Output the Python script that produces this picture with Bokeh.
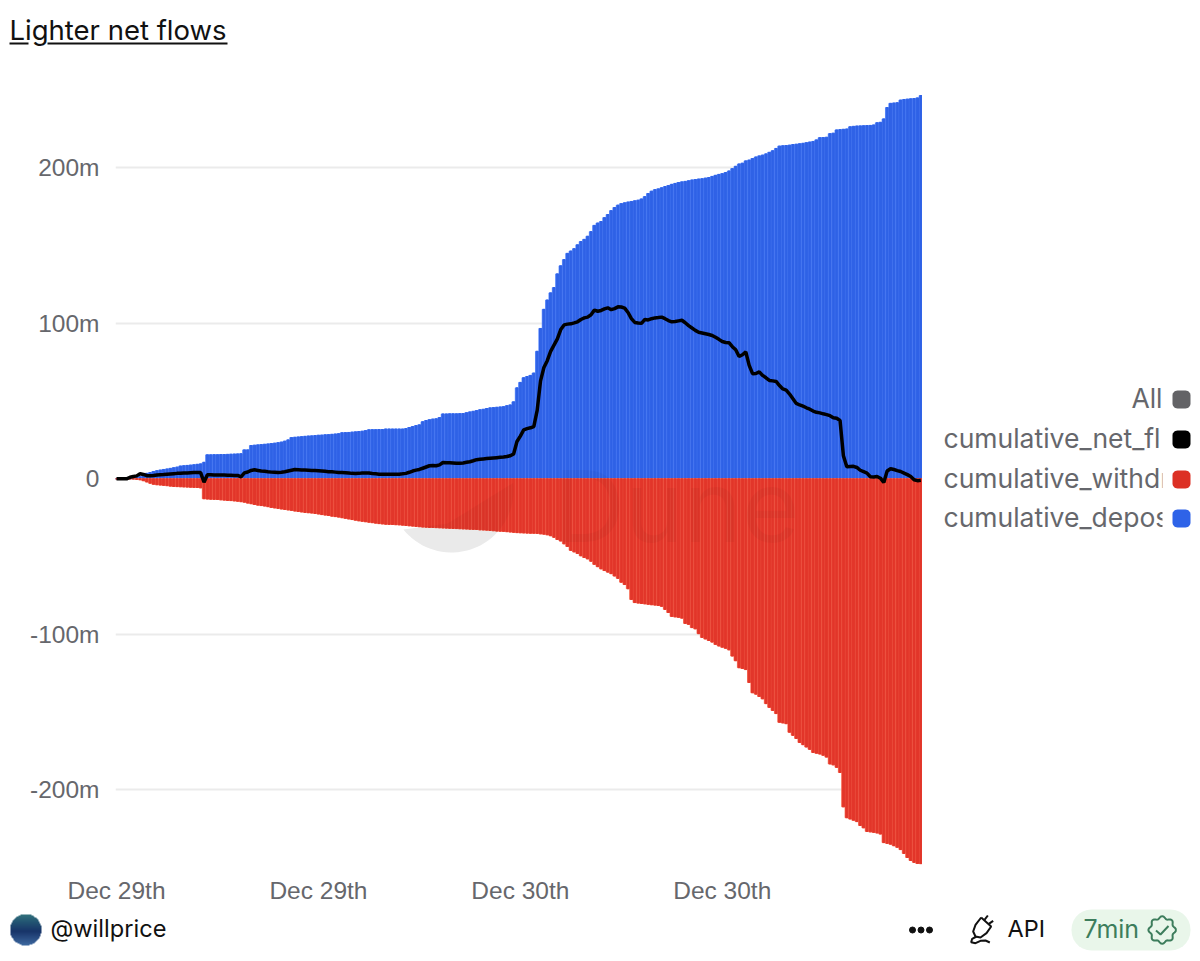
import numpy as np
from bokeh.core.properties import value
from bokeh.embed import file_html
from bokeh.layouts import column, row
from bokeh.models import ColumnDataSource, FixedTicker, Range1d
from bokeh.plotting import figure
from bokeh.resources import INLINE

# values in millions, one bar per time bucket
cumulative_deposits = [
    0, 0, 0, 0, 0.2, 0.5, 0.9, 1.3, 2, 3.5,
    4, 4.7, 5.2, 5.6, 6, 6.3, 6.7, 7.1, 7.5, 8.2,
    8.4, 8.6, 8.8, 9, 9.3, 9.6, 10.6, 15.4, 15.4, 15.5,
    15.5, 15.6, 15.6, 15.7, 15.8, 15.9, 16, 16.1, 18.6, 18.6,
    21.4, 21.6, 21.8, 22, 22.2, 22.4, 22.7, 22.9, 23.2, 23.6,
    24.2, 25, 26.5, 26.7, 26.9, 27.1, 27.3, 27.5, 27.6, 27.8,
    28, 28.1, 28.3, 28.4, 28.6, 28.8, 29, 29.6, 29.7, 29.8,
    30, 30.2, 30.4, 30.6, 31, 31.5, 31.6, 31.6, 31.7, 31.7,
    32, 32, 32, 32, 32, 32, 32.3, 33, 33.6, 34.2,
    34.7, 36.7, 37.5, 38, 38.4, 38.6, 39.4, 41.7, 41.7, 41.8,
    41.8, 41.8, 41.9, 42, 42.5, 43, 43.4, 43.9, 44.4, 44.7,
    45.2, 45.6, 45.8, 46, 46.2, 46.4, 47, 47.5, 49.5, 58.5,
    62, 65, 65.8, 66.5, 68, 82, 96.7, 109, 115, 119.6,
    123, 131.8, 137, 141, 145, 146.5, 148, 150.5, 152.6, 154,
    156, 159, 163, 164.5, 165.5, 168, 170, 172.5, 174.5, 176,
    177, 177.5, 178, 178.4, 178.8, 179.2, 180, 181.5, 183.5, 185,
    186, 186.5, 187.2, 188, 188.6, 189.4, 190, 190.6, 191, 191.3,
    191.7, 192.2, 192.5, 192.8, 193, 193.4, 193.8, 194.5, 195.2, 195.8,
    196.3, 197, 198, 199.5, 201, 202.5, 203, 204.5, 205, 206,
    207, 207.7, 208.2, 209, 210, 211, 212.5, 214, 214.2, 214.4,
    214.6, 215, 215.2, 215.5, 215.8, 216.2, 216.6, 217, 218, 219.4,
    219.5, 219.7, 222, 222.3, 224.4, 224.6, 224.8, 225, 226.4, 226.7,
    226.9, 227, 227.1, 227.2, 227.3, 227.6, 229, 229.3, 231.5, 238.8,
    241.5, 241.7, 241.9, 243.6, 244, 244.2, 244.4, 244.6, 245, 246.5,
]
cumulative_withdrawals = [
    0, 0, 0, 0, 0, 0, -0.3, -0.6, -1.2, -2,
    -2.8, -3.5, -3.8, -4, -4.2, -4.4, -4.7, -4.9, -5, -5.1,
    -5.2, -5.3, -5.4, -5.5, -5.6, -5.8, -12.8, -13, -13.1, -13.2,
    -13.3, -13.5, -13.7, -13.9, -14, -14.2, -14.4, -14.7, -15, -15.6,
    -16, -16.5, -16.9, -17.2, -17.5, -17.9, -18.4, -18.7, -19, -19.4,
    -19.7, -20, -20.3, -20.7, -21, -21.3, -21.6, -21.8, -22, -22.3,
    -22.6, -23, -23.3, -23.6, -24, -24.3, -24.6, -25, -25.4, -25.8,
    -26.2, -26.6, -27, -27.3, -27.6, -27.9, -28.2, -28.5, -28.8, -29,
    -29.2, -29.3, -29.4, -29.5, -29.6, -29.8, -30, -30.2, -30.4, -30.6,
    -30.8, -31, -31.1, -31.3, -31.3, -31.4, -31.5, -31.6, -31.7, -31.8,
    -31.9, -32, -32.1, -32.2, -32.3, -32.4, -32.5, -32.6, -32.8, -32.9,
    -33, -33.2, -33.4, -33.6, -33.7, -33.8, -34, -34.2, -34.4, -34.6,
    -34.7, -34.8, -34.9, -35, -35, -35.1, -35.4, -35.6, -36, -36.6,
    -37.6, -39, -40, -41.8, -43.5, -46, -47, -48, -49.5, -50.6,
    -51.5, -53, -55, -56.5, -57.9, -59, -60, -61, -62.5, -64,
    -66.5, -68, -70.7, -77.6, -79.6, -79.9, -80.2, -80.4, -80.7, -81,
    -81.2, -81.5, -82, -84, -86, -88.5, -88.8, -89.1, -89.6, -93,
    -93.6, -95.7, -96.5, -99.6, -102, -103, -104, -105, -106.5, -107.5,
    -108.3, -109, -110, -114, -117, -121.5, -122, -122.7, -131, -137.6,
    -138.5, -140, -141.5, -144.6, -147, -149, -151, -156.6, -157, -157.5,
    -163, -165, -167, -169.6, -171, -172.5, -174, -176, -176.5, -177,
    -177.8, -179, -183.4, -184, -185.6, -188.9, -211, -218, -218.8, -219.6,
    -220.5, -223, -224.5, -226.8, -227.1, -227.4, -227.8, -228.5, -234, -234.5,
    -235, -236, -237, -238.5, -241, -243.6, -245.5, -246.7, -247.4, -247.6,
]
cumulative_net_flow = [
    0, 0, 0, 0, 1, 1.5, 1.9, 3.3, 2.8, 2,
    1.9, 2.1, 2.4, 2.6, 2.7, 2.9, 3.1, 3.3, 3.5, 3.6,
    3.7, 3.8, 3.9, 4, 4, 4, -2.2, 2.6, 2.6, 2.5,
    2.5, 2.4, 2.4, 2.3, 2.3, 2.2, 2.2, 1.3, 3.8, 4.4,
    5.4, 5.8, 5.4, 5, 4.8, 4.5, 4.3, 4.2, 4, 4.2,
    4.5, 5, 5.5, 6, 5.9, 5.7, 5.6, 5.5, 5.4, 5.3,
    5.2, 5, 4.8, 4.6, 4.5, 4.3, 4.1, 4, 3.9, 3.7,
    3.5, 3.4, 3.5, 3.7, 3.8, 3.7, 3.4, 3.2, 3, 3,
    3, 3, 3, 3, 3, 3.2, 3.5, 4.2, 5, 5.6,
    6, 6.8, 7.6, 8.4, 8.6, 8.4, 9, 10.5, 10.4, 10.3,
    10.2, 10, 10, 10.2, 10.6, 11, 11.6, 12.3, 12.6, 12.8,
    13, 13.2, 13.4, 13.6, 13.8, 14, 14.3, 14.8, 16, 24,
    27.5, 31.5, 32.3, 32.8, 33.6, 44, 63, 71.6, 76, 82,
    86, 90, 96, 99, 99.5, 99.7, 100.3, 101, 102.5, 103.5,
    104, 105.5, 108.5, 107.8, 108.3, 109.3, 110, 108.8, 109.5, 110.6,
    110.5, 109.8, 107, 103, 100.6, 100.2, 100, 102.5, 102.2, 103,
    103.5, 103.7, 104, 103, 101.8, 101, 101.2, 101.6, 102, 100.4,
    98.5, 97, 95.5, 94.3, 93.8, 93.3, 92.8, 92.2, 91, 89.7,
    88.3, 87.7, 87.6, 85, 83, 78.7, 79.8, 81.6, 73, 67.6,
    67.7, 68.8, 66.5, 65, 63.3, 63, 62.6, 60, 57.8, 57,
    54.5, 51.5, 48.5, 47.5, 46.7, 45.7, 44.8, 43.6, 42.8, 42.4,
    41.8, 41.3, 40.6, 39.3, 38.9, 37.5, 14.8, 7.7, 7.9, 8,
    7.3, 5.5, 4.6, 3.7, 1.3, 1.2, 1.5, 0.4, -2.4, 5,
    6.5, 6, 5.3, 4.7, 3.7, 2.7, 1.5, -0.6, -1.2, -0.9,
]
bar_index = list(range(len(cumulative_deposits)))

x_ticks = [0, 60, 120, 180]
x_tick_labels = ["Dec 29th", "Dec 29th", "Dec 30th", "Dec 30th"]
y_ticks = [-200, -100, 0, 100, 200]
y_tick_labels = ["-200m", "-100m", "0", "100m", "200m"]

legend_names = ["All", "cumulative_net_fl", "cumulative_withdr", "cumulative_depos"]
legend_colors = ["#636366", "#000000", "#dc3024", "#2e63e8"]
legend_rows = [399, 439, 479, 518]

GREY = "#66676c"
INK = "#111111"
GREEN = "#3d7d5c"
INTER = value("Inter")


def px_to_x(px):
    return (np.asarray(px) - 116.0) / 3.365


def py_to_y(py):
    return (478.3 - np.asarray(py)) / 1.5545


def page_figure(left, right, top, bottom):
    # a strip without axes whose data units are page pixels
    fig = figure(frame_width=right - left, frame_height=bottom - top, output_backend="svg", toolbar_location=None,
                 x_range=Range1d(left, right), y_range=Range1d(bottom, top),
                 x_axis_location=None, y_axis_location=None, min_border=0)
    fig.outline_line_color = None
    fig.grid.visible = False
    return fig


def rounded(left, right, top, bottom, rad):
    xs, ys = [], []
    for cx, cy, start in [(right - rad, top + rad, -90), (right - rad, bottom - rad, 0),
                          (left + rad, bottom - rad, 90), (left + rad, top + rad, 180)]:
        a = np.radians(np.linspace(start, start + 90, 8))
        xs += list(cx + rad * np.cos(a))
        ys += list(cy + rad * np.sin(a))
    return xs, ys


# title strip
t = page_figure(0, 1192, 0, 85)
t.text(x=[9], y=[29], text=["Lighter net flows"], text_font=INTER, text_font_size="27.5px",
       text_color=INK, text_baseline="middle")
t.multi_line(xs=[[9, 28], [47, 227]], ys=[[43, 43], [43, 43]], line_color=INK, line_width=2)

# main chart
source = ColumnDataSource(dict(i=bar_index, dep=cumulative_deposits,
                               wd=cumulative_withdrawals, net=cumulative_net_flow))

p = figure(frame_width=807, frame_height=779, output_backend="svg", toolbar_location=None,
           x_range=Range1d(-0.3, 239.5), y_range=Range1d(-248.1, 253),
           min_border_left=115, min_border_right=0, min_border_top=0, min_border_bottom=41)
p.outline_line_color = None
p.xgrid.visible = False
p.ygrid.ticker = FixedTicker(ticks=y_ticks)
p.ygrid.grid_line_color = "#ebebeb"
p.ygrid.grid_line_width = 2

for ax in [p.xaxis[0], p.yaxis[0]]:
    ax.axis_line_color = None
    ax.major_tick_line_color = None
    ax.minor_tick_line_color = None
    ax.major_label_text_font = "Liberation Sans"
    ax.major_label_text_font_size = "24.5px"
    ax.major_label_text_color = GREY
p.xaxis.ticker = FixedTicker(ticks=x_ticks)
p.xaxis.major_label_overrides = dict(zip(x_ticks, x_tick_labels))
p.xaxis.major_label_standoff = 6
p.yaxis.ticker = FixedTicker(ticks=y_ticks)
p.yaxis.major_label_overrides = dict(zip(y_ticks, y_tick_labels))
p.yaxis.major_label_standoff = 10

# watermark circle piece, sits behind the bars and shows faintly through them
theta = np.radians(np.linspace(-7, 141, 40))
mark_x = px_to_x(np.r_[451 + 62 * np.cos(theta), 447])
mark_y = py_to_y(np.r_[490 + 62 * np.sin(theta), 523])
p.patch(mark_x, mark_y, color="#f2f2f2", line_width=0)

# lighter bar underneath gives the stripes between the bars
p.vbar(x="i", top="dep", bottom=0, width=1.0, color="#6b97ff", source=source)
p.vbar(x="i", top="dep", bottom=0, width=0.62, color="#2f62e6", source=source)
p.vbar(x="i", top=0, bottom="wd", width=1.0, color="#fb7a62", source=source)
p.vbar(x="i", top=0, bottom="wd", width=0.62, color="#e2362a", source=source)

p.patch(mark_x, mark_y, color="#000000", alpha=0.03, line_width=0)
p.text(x=px_to_x([553]), y=py_to_y([505]), text=["Dune"], text_font=INTER,
       text_font_size="99px", text_color="#000000", text_alpha=0.03, text_baseline="middle")

p.line(x="i", y="net", line_color="#000000", line_width=3.5, source=source)

# legend, names cut off at the swatch column
legend_text_rows = [y0 - 2 for y0 in legend_rows]
l = page_figure(922, 1192, 85, 905)
l.text(x=[1162], y=legend_text_rows[:1], text=legend_names[:1], text_font=INTER, text_font_size="26.5px",
       text_color=GREY, text_align="right", text_baseline="middle")
l.text(x=[943] * 3, y=legend_text_rows[1:], text=legend_names[1:], text_font=INTER, text_font_size="26.5px",
       text_color=GREY, text_baseline="middle")
l.quad(left=[1162], right=[1192], top=[380], bottom=[540], color="#ffffff", line_width=0)
for color, y0 in zip(legend_colors, legend_rows):
    xs, ys = rounded(1172, 1190, y0 - 9, y0 + 9, 5)
    l.patch(xs, ys, color=color, line_width=0)

# footer strip
f = page_figure(0, 1192, 905, 953)

yy, xx = np.mgrid[0:64, 0:64]
rr = np.hypot(xx - 31.5, yy - 31.5)
shade = yy / 63.0
r_ch = np.interp(shade, [0, 0.25, 0.55, 1], [50, 35, 24, 62])
g_ch = np.interp(shade, [0, 0.25, 0.55, 1], [115, 85, 52, 105])
b_ch = np.interp(shade, [0, 0.25, 0.55, 1], [125, 115, 105, 160])
a_ch = np.where(rr < 31.5, 255, 0)
avatar = (a_ch.astype(np.uint32) << 24) | (b_ch.astype(np.uint32) << 16) | (g_ch.astype(np.uint32) << 8) | r_ch.astype(np.uint32)
f.image_rgba(image=[avatar], x=9, y=912, dw=32, dh=32)

f.text(x=[50], y=[927], text=["@willprice"], text_font=INTER, text_font_size="23.6px",
       text_color=INK, text_baseline="middle")
f.scatter(x=[912, 920.5, 929], y=[928.5, 928.5, 928.5], size=6, color=INK)

plug_x = 880 + np.array([302, 285, 278, 285, 300, 318, 332, 302]) / 3
plug_y = 890 + np.array([78, 100, 120, 135, 138, 125, 105, 78]) / 3
f.line(plug_x, plug_y, line_color=INK, line_width=2)
f.line(880 + np.array([312, 322]) / 3, 890 + np.array([85, 72]) / 3, line_color=INK, line_width=2)
f.line(880 + np.array([325, 338]) / 3, 890 + np.array([97, 88]) / 3, line_color=INK, line_width=2)
cable_x = 880 + np.array([288, 275, 272, 285, 300, 315, 328]) / 3
cable_y = 890 + np.array([135, 142, 152, 155, 148, 147, 153]) / 3
f.line(cable_x, cable_y, line_color=INK, line_width=2)
f.text(x=[1007], y=[927], text=["API"], text_font=INTER, text_font_size="23.5px",
       text_color=INK, text_baseline="middle")

pill_x, pill_y = rounded(1071, 1190, 908, 949, 20)
f.patch(pill_x, pill_y, color="#e9f6ea", line_width=0)
f.text(x=[1083], y=[927], text=["7min"], text_font=INTER, text_font_size="25px",
       text_color=GREEN, text_baseline="middle")
ang = np.linspace(0, 2 * np.pi, 97)
f.line(1161.7 + (12.6 + 1.2 * np.cos(8 * ang)) * np.cos(ang), 928.5 + (12.6 + 1.2 * np.cos(8 * ang)) * np.sin(ang),
       line_color=GREEN, line_width=2)
f.line([1155.5, 1160, 1168], [929, 933, 924.5], line_color=GREEN, line_width=2)

page = column(t, row(p, l, spacing=0), f, spacing=0)
open("out.html", "w").write(file_html(page, INLINE))
